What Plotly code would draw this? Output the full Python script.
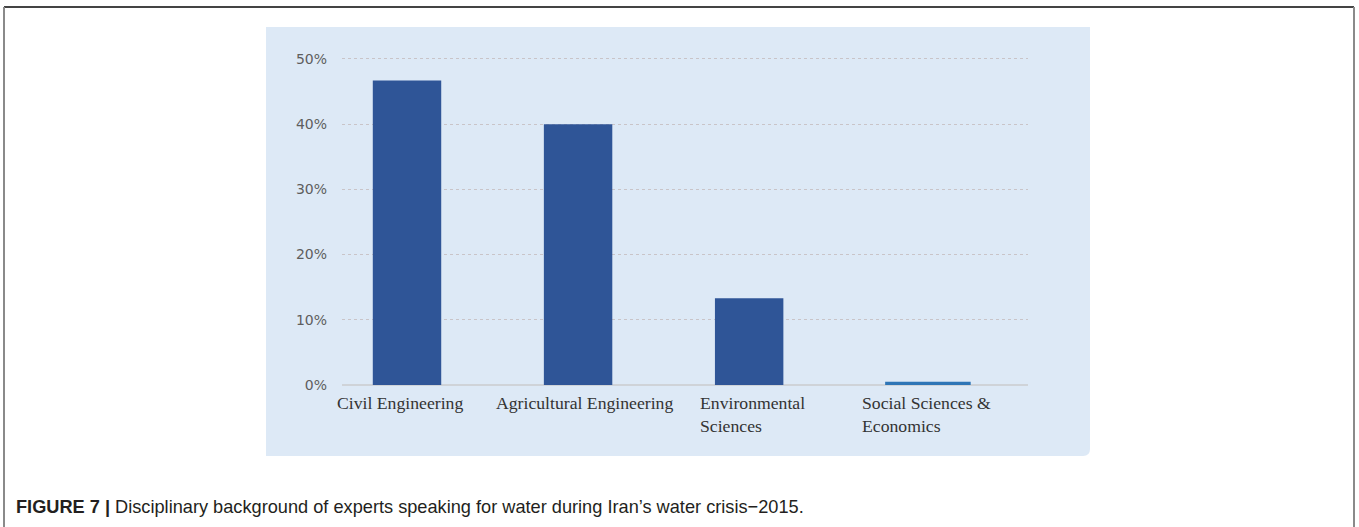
import plotly.graph_objects as go

# Disciplinary background of experts (share of experts, %)
disciplines = ["Civil Engineering", "Agricultural Engineering",
               "Environmental Sciences", "Social Sciences & Economics"]
label_lines = ["Civil Engineering", "Agricultural Engineering",
               "Environmental<br>Sciences", "Social Sciences &amp;<br>Economics"]
share_pct = [46.7, 40.0, 13.3, 0.5]
bar_colors = ["#2f5597", "#2f5597", "#2f5597", "#2e75b6"]
bar_widths = [0.4, 0.4, 0.4, 0.5]
bar_offsets = [-0.2, -0.2, -0.2, -0.205]
y_ticks = [0, 10, 20, 30, 40, 50]
y_tick_text = ["0%", "10%", "20%", "30%", "40%", "50%"]
y_max = 50.6
caption_bold = "FIGURE 7 |"
caption_text = "Disciplinary background of experts speaking for water during Iran\u2019s water crisis\u22122015."

W, H = 1359, 527
L, R, B = 342, 1028, 385          # plot area edges in pixels
PX_PER_UNIT = (385 - 59) / 50.0   # vertical pixels per percentage point
T = B - PX_PER_UNIT * y_max


def px_x(x):
    return (x - L) / (R - L)


def px_y(y):
    return 1 - (y - T) / (B - T)


fig = go.Figure()
fig.add_trace(go.Bar(
    x=list(range(len(disciplines))),
    y=share_pct,
    width=bar_widths,
    offset=bar_offsets,
    marker=dict(color=bar_colors, line=dict(width=0)),
    hovertext=disciplines,
    showlegend=False,
))

shapes = [
    # light blue chart panel
    dict(type="path", xref="paper", yref="paper",
         path=("M {a},{b} L {c},{b} L {c},{d} Q {c},{e} {f},{e} L {a},{e} Z").format(
             a=px_x(266), b=px_y(27), c=px_x(1090), d=px_y(449),
             e=px_y(456), f=px_x(1083)),
         fillcolor="#dde9f6", line=dict(width=0), layer="below"),
    # outer frame
    dict(type="line", xref="paper", yref="paper",
         x0=px_x(4), x1=px_x(1354), y0=px_y(7), y1=px_y(7),
         line=dict(color="#444444", width=2)),
    dict(type="line", xref="paper", yref="paper",
         x0=px_x(4), x1=px_x(4), y0=px_y(7), y1=px_y(530),
         line=dict(color="#8a8a8a", width=2)),
    dict(type="line", xref="paper", yref="paper",
         x0=px_x(1354), x1=px_x(1354), y0=px_y(7), y1=px_y(530),
         line=dict(color="#8a8a8a", width=2)),
]

annotations = []
label_shift = [-0.04, 0.035, -0.3, -0.35]
for i, (txt, sh) in enumerate(zip(label_lines, label_shift)):
    multi = "<br>" in txt
    annotations.append(dict(
        x=i + sh, y=0, xref="x", yref="y",
        text=txt, showarrow=False, align="left",
        xanchor="left" if multi else "center", yanchor="top", yshift=-6,
        font=dict(family="Liberation Serif, Times New Roman, serif", size=17.7, color="#333333"),
    ))

annotations.append(dict(
    x=px_x(14), y=px_y(507), xref="paper", yref="paper",
    xanchor="left", yanchor="middle", showarrow=False, align="left",
    text="<b>" + caption_bold + "</b> " + caption_text,
    font=dict(family="Liberation Sans, Arial, sans-serif", size=18.2, color="#231f20"),
))

fig.update_layout(
    width=W, height=H,
    margin=dict(l=L, r=W - R, t=T, b=H - B, pad=0),
    paper_bgcolor="white",
    plot_bgcolor="rgba(0,0,0,0)",
    shapes=shapes,
    annotations=annotations,
    xaxis=dict(range=[-0.38, 3.63], showticklabels=False, showgrid=False,
               zeroline=False, showline=False, ticks="", fixedrange=True),
    yaxis=dict(range=[0, y_max], tickvals=y_ticks, ticktext=y_tick_text,
               showgrid=True, gridcolor="#c9c4c8", griddash="dot", gridwidth=1,
               zeroline=True, zerolinecolor="#cfd3d8", zerolinewidth=2,
               showline=False, ticks="", ticklabelstandoff=14,
               tickfont=dict(family="DejaVu Sans, sans-serif", size=14, color="#5e5e5e"),
               fixedrange=True),
)

fig.write_html("out.html")
